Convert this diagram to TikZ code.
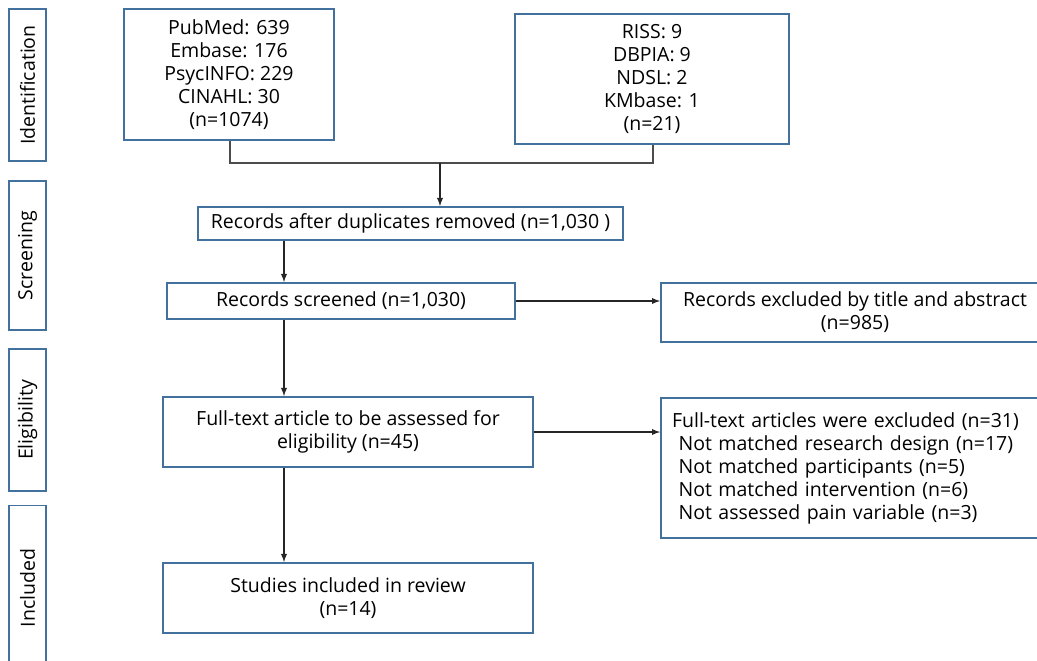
\documentclass[tikz,border=0pt]{standalone}
\usepackage{fontspec}
\setmainfont{Open Sans}
\usepackage{xcolor}
\usepackage{tikz}
\usetikzlibrary{calc, positioning}

\definecolor{boxblue}{HTML}{41719C}

\begin{document}
\begin{tikzpicture}[>=latex, x=0.02cm, y=-0.02cm,
    box/.style={draw=boxblue, line width=1.1pt, align=center, inner sep=0pt,
        font=\fontsize{11.1}{13.1}\selectfont},
    stage/.style={draw=boxblue, line width=1.1pt, rotate=90, inner sep=0pt,
        minimum height=0.74cm, font=\fontsize{11.1}{13.1}\selectfont},
    link/.style={->, line width=0.6pt, black!85},
    joint/.style={line width=0.6pt, black!70}]
    % 1. Khung trang
    \useasboundingbox (0,0) rectangle (1037,660);
    \clip (0,0) rectangle (1037,660);

    % 2. Cac giai doan ben trai
    \node[stage, minimum width=3.04cm] (ident) at (27.5,85) {Identification};
    \node[stage, minimum width=2.98cm] (screening) at (27.5,255.5) {Screening};
    \node[stage, minimum width=2.84cm] (elig) at (27.5,420) {Eligibility};
    \node[stage, minimum width=3.3cm] (incl) at (27.5,588) {Included};

    % 3. Co so du lieu
    \node[box, minimum width=4.2cm, minimum height=2.62cm] (intl) at (229,74.5)
        {PubMed: 639\\Embase: 176\\PsycINFO: 229\\CINAHL: 30\\(n=1074)};
    \node[box, minimum width=5.48cm, minimum height=2.6cm] (kor) at (652,79)
        {RISS: 9\\DBPIA: 9\\NDSL: 2\\KMbase: 1\\(n=21)};

    % 4. Cac buoc sang loc
    \node[box, minimum width=8.5cm, minimum height=0.66cm] (dup) at (410.5,223.5)
        {Records after duplicates removed (n=1,030 )};
    \node[box, minimum width=6.96cm, minimum height=0.72cm] (screened) at (341,301)
        {Records screened (n=1,030)};
    \node[box, minimum width=7.76cm, minimum height=1.18cm] (extitle) at (855,312.5)
        {Records excluded by title and abstract\\(n=985)};
    \node[box, minimum width=7.4cm, minimum height=1.4cm] (fulltext) at (348,432)
        {Full-text article to be assessed for\\eligibility (n=45)};
    \node[box, align=left, inner xsep=0.22cm, text width=7.32cm,
        minimum height=2.8cm] (exfull) at (855,468)
        {Full-text articles were excluded (n=31)\\
        \ Not matched research design (n=17)\\
        \ Not matched participants (n=5)\\
        \ Not matched intervention (n=6)\\
        \ Not assessed pain variable (n=3)};
    \node[box, minimum width=7.4cm, minimum height=1.4cm] (studies) at (348,598)
        {Studies included in review\\(n=14)};

    % 5. Cac duong noi
    \coordinate (merge) at (440,163);
    \coordinate (spine) at (284,0);
    \draw[joint] (intl.south -| 230,0) |- (merge) -| (kor.south -| 653,0);
    \draw[link] (merge) -- (merge |- dup.north);
    \draw[link] (spine |- dup.south) -- (spine |- screened.north);
    \draw[link] (screened.east) -- (screened.east -| extitle.west);
    \draw[link] (spine |- screened.south) -- (spine |- fulltext.north);
    \draw[link] (fulltext.east) -- (fulltext.east -| exfull.west);
    \draw[link] (spine |- fulltext.south) -- (spine |- studies.north);
\end{tikzpicture}
\end{document}
